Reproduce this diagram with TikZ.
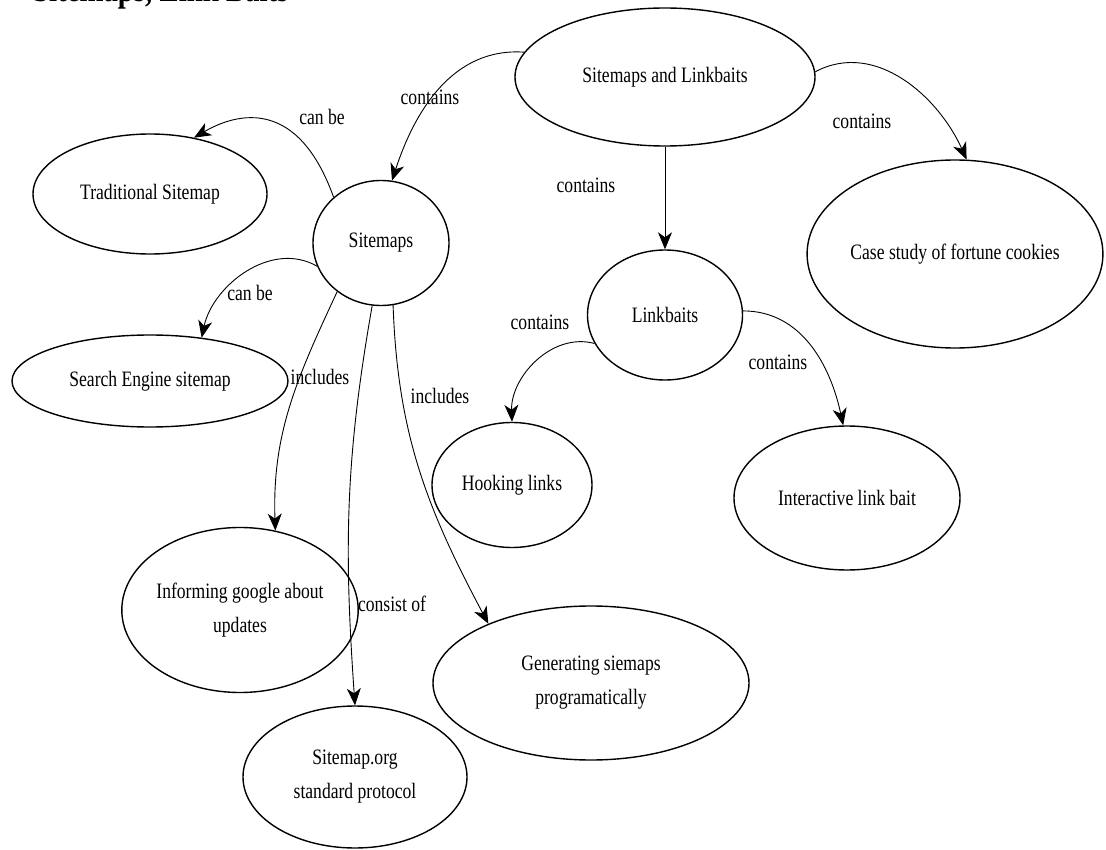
\documentclass[tikz,border=0pt]{standalone}
\usepackage{fontspec}
\setmainfont{Liberation Serif}[FakeStretch=0.8]
\usetikzlibrary{shapes.geometric,arrows.meta}
\begin{document}
\begin{tikzpicture}[x=1pt,y=-1pt,
  topic/.style={ellipse,draw,line width=1.4pt,inner sep=0pt,align=center,
    font=\fontsize{22}{34}\selectfont},
  rel/.style={line width=0.9pt,-{Stealth[length=17pt,width=14pt,inset=5pt]}},
  lbl/.style={font=\fontsize{22}{24}\selectfont,inner sep=1pt}]
\useasboundingbox (0,0) rectangle (1106,850);
\fill[white] (0,0) rectangle (1106,850);

% heading, mostly above the top edge of the page
\node[anchor=south west,inner sep=0pt,font=\fontsize{36}{40}\selectfont\bfseries] (title) at (33,9) {Sitemaps, Link Baits};

% topics
\node[topic,minimum width=300pt,minimum height=138pt] (root) at (665,77) {Sitemaps and Linkbaits};
\node[topic,minimum width=234pt,minimum height=120pt] (trad) at (150,194) {Traditional Sitemap};
\node[topic,minimum width=136pt,minimum height=125pt] (smaps) at (381,243) {Sitemaps};
\node[topic,minimum width=276pt,minimum height=92pt] (search) at (150,381) {Search Engine sitemap};
\node[topic,minimum width=155pt,minimum height=130pt] (lbaits) at (665,315) {Linkbaits};
\node[topic,minimum width=286pt,minimum height=188pt] (cookies) at (955,254) {Case study of fortune cookies};
\node[topic,minimum width=160pt,minimum height=125pt] (hook) at (512,485) {Hooking links};
\node[topic,minimum width=226pt,minimum height=144pt] (inter) at (847,498) {Interactive link bait};
\node[topic,minimum width=166pt,minimum height=165pt] (inform) at (240,610) {Informing google about\\updates};
\node[topic,minimum width=316pt,minimum height=154pt] (gen) at (591,683) {Generating siemaps\\programatically};
\node[topic,minimum width=224pt,minimum height=142pt] (proto) at (355,777) {Sitemap.org\\standard protocol};

% relations
\draw[rel] (root.170) to[out=176,in=72] (smaps.80);
\draw[rel] (root.south) -- (lbaits.north);
\draw[rel] (root.2) to[out=28,in=114] (cookies.83);
\draw[rel] (smaps.136) .. controls (298,98) and (238,112) .. (trad.52);
\draw[rel] (smaps.200) to[out=150,in=78] (search.40);
\draw[rel] (smaps.228) to[out=245,in=92] (inform.66);
\draw[rel] (smaps.262) to[out=260,in=94] (proto.north);
\draw[rel] (smaps.281) to[out=272,in=118] (gen.150);
\draw[rel] (lbaits.202) to[out=165,in=92] (hook.north);
\draw[rel] (lbaits.3) to[out=0,in=102] (inter.93);

% relation labels
\node[lbl] (l1) at (430,97) {contains};
\node[lbl] (l2) at (586,185) {contains};
\node[lbl] (l3) at (862,121) {contains};
\node[lbl] (l4) at (322,117) {can be};
\node[lbl] (l5) at (250,293) {can be};
\node[lbl] (l6) at (320,377) {includes};
\node[lbl] (l7) at (392,604) {consist of};
\node[lbl] (l8) at (440,396) {includes};
\node[lbl] (l9) at (540,322) {contains};
\node[lbl] (l10) at (778,362) {contains};
\end{tikzpicture}
\end{document}
